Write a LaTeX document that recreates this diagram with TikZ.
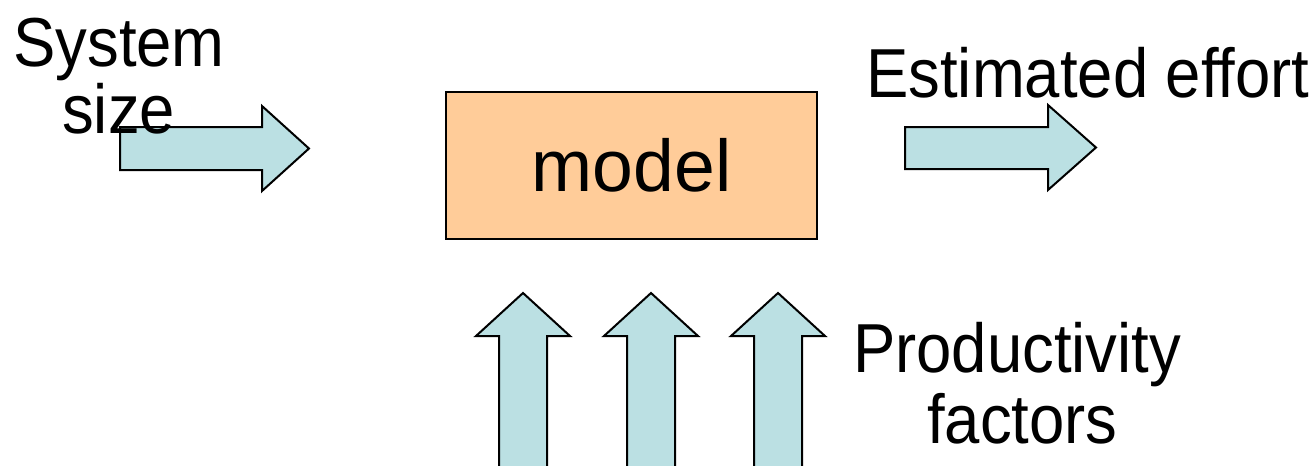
\documentclass[tikz,border=0pt]{standalone}
\usepackage{fontspec}
\setmainfont{Liberation Sans}
\newfontfamily\narrowfont[FakeStretch=0.915]{Liberation Sans}
\usetikzlibrary{positioning}
\definecolor{arrowblue}{HTML}{BBE0E3}
\definecolor{boxorange}{HTML}{FFCC99}

\begin{document}
\begin{tikzpicture}[x=0.75pt, y=-0.75pt,
    fatarrow/.style={draw=black, fill=arrowblue, line width=1.5pt, line join=miter},
    label/.style={anchor=base west, inner sep=0pt, font=\narrowfont\fontsize{52}{58}\selectfont}]
\useasboundingbox (0,0) rectangle (1315,465);

% Model box
\node[draw=black, fill=boxorange, line width=1.5pt, minimum width=278pt, minimum height=110pt,
      font=\fontsize{55}{60}\selectfont] (model) at (631.5,165.5) {model};

% Input arrow (system size)
\draw[fatarrow] (120,127) -- (262,127) -- (262,106) -- (309,148.5)
    -- (262,191) -- (262,170) -- (120,170) -- cycle;
\node[label] (sizein) at (13,66) {System};
\node[label] (sizeword) at (62,133) {size};

% Output arrow (estimated effort)
\draw[fatarrow] (905,127) -- (1048,127) -- (1048,105) -- (1096,147.5)
    -- (1048,190) -- (1048,169) -- (905,169) -- cycle;
\node[label] (effort) at (866,97) {Estimated effort};

% Productivity factor arrows
\foreach \px in {523,651,778} {
  \draw[fatarrow] (\px-24,467) -- (\px-24,336) -- (\px-47,336) -- (\px,293)
      -- (\px+47,336) -- (\px+24,336) -- (\px+24,467) -- cycle;
}
\node[label] (prod) at (853,372) {Productivity};
\node[label] (factors) at (927,443) {factors};
\end{tikzpicture}
\end{document}
